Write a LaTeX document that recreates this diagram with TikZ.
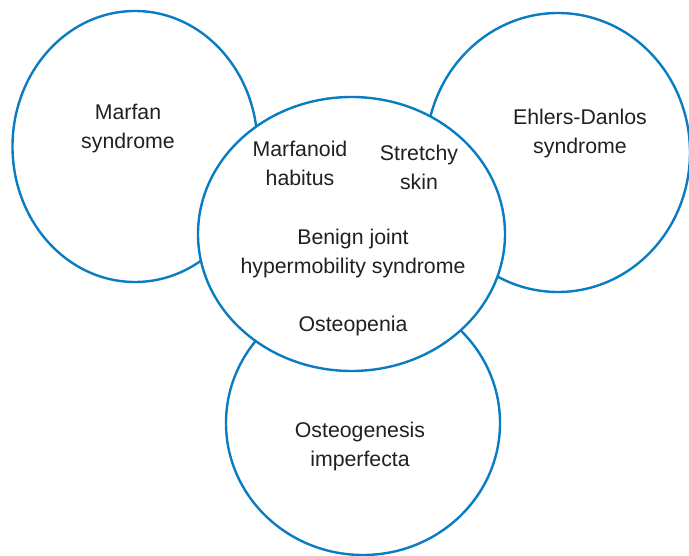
\documentclass[tikz,border=0pt]{standalone}
\usepackage{fontspec}
\setmainfont{Liberation Sans}
\usetikzlibrary{shapes.geometric}
\definecolor{ringblue}{HTML}{0A7CC2}
\definecolor{txt}{HTML}{231F20}
\tikzset{
  ring/.style={ellipse, draw=ringblue, line width=2.4pt, inner sep=0pt},
  lbl/.style={align=center, text=txt, font=\fontsize{21.3}{29}\selectfont, inner sep=0pt}
}
\begin{document}
\begin{tikzpicture}[x=1pt,y=-1pt]
\useasboundingbox (0,0) rectangle (689,556);
\node[ring, minimum width=245pt, minimum height=271pt] (marfan) at (135,146.5) {};
\node[ring, minimum width=264pt, minimum height=279pt] (ehlers) at (558,152.5) {};
\node[ring, minimum width=274pt, minimum height=264pt] (oi) at (363,423) {};
\node[ring, fill=white, minimum width=307pt, minimum height=274pt] (bjhs) at (351.5,234) {};
\node[lbl] (tmarfan) at (128,129) {Marfan\\syndrome};
\node[lbl] (tehlers) at (580,133) {Ehlers-Danlos\\syndrome};
\node[lbl] (thabitus) at (300,163) {Marfanoid\\habitus};
\node[lbl] (tskin) at (419,167) {Stretchy\\skin};
\node[lbl] (tbjhs) at (353,253) {Benign joint\\hypermobility syndrome};
\node[lbl] (tosteo) at (353,326) {Osteopenia};
\node[lbl] (toi) at (360,446) {Osteogenesis\\imperfecta};
\end{tikzpicture}
\end{document}
